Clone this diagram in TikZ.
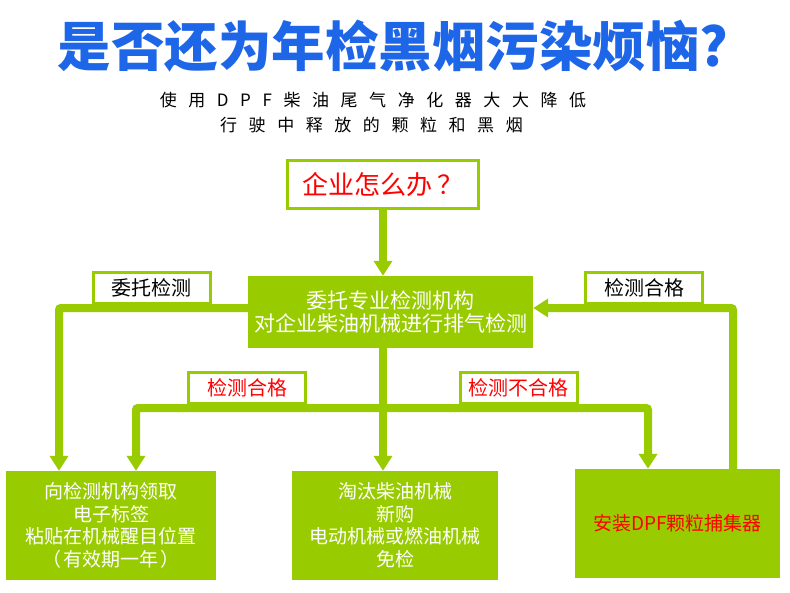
\documentclass[tikz,border=0pt]{standalone}
\usepackage{fontspec}
\setmainfont{Noto Sans CJK SC}
\newfontfamily\cjksp[LetterSpace=68]{Noto Sans CJK SC}
\usetikzlibrary{arrows.meta}
\definecolor{gr}{RGB}{153,204,0}
\definecolor{ttl}{RGB}{30,102,232}
\definecolor{rd}{RGB}{255,0,0}
\tikzset{
  conn/.style={draw=gr, line width=8pt, rounded corners=2pt},
  tipg/.tip={Triangle[width=18pt,length=15pt]},
  arr/.style={conn, -tipg},
  gbox/.style={fill=gr, text=white, align=center, inner sep=0pt},
  lbl/.style={draw=gr, line width=3pt, fill=white, minimum width=117pt, minimum height=31pt, inner sep=0pt, font=\fontsize{20}{24}\selectfont},
}
\begin{document}
\begin{tikzpicture}[x=1pt,y=-1pt]
\useasboundingbox (0,0) rectangle (790,592);
\fill[white] (0,0) rectangle (790,592);
% title
\node[font=\fontsize{53.5}{60}\selectfont\bfseries, text=ttl, inner sep=0pt] (title) at (393,46) {是否还为年检黑烟污染烦恼?};
\node[font=\cjksp\fontsize{17}{20}\selectfont, inner sep=0pt] (sub1) at (373,100) {使用DPF柴油尾气净化器大大降低};
\node[font=\cjksp\fontsize{17}{20}\selectfont, inner sep=0pt] (sub2) at (371.5,125) {行驶中释放的颗粒和黑烟};
% boxes
\node[draw=gr, line width=3pt, fill=white, minimum width=191pt, minimum height=48pt, inner sep=0pt, text=rd, font=\fontsize{26}{28}\selectfont] (q) at (383,184.5) {企业怎么办\hspace{5pt}？};
\node[gbox, minimum width=285pt, minimum height=72pt, font=\fontsize{21}{23}\selectfont] (main) at (390.5,312) {委托专业检测机构\\对企业柴油机械进行排气检测};
\node[gbox, minimum width=210pt, minimum height=109pt, font=\fontsize{19}{22.5}\selectfont] (lbox) at (111,525.5) {向检测机构领取\\电子标签\\粘贴在机械醒目位置\\（\hspace{2pt}有效期一年\hspace{2pt}）};
\node[gbox, minimum width=206pt, minimum height=109pt, font=\fontsize{19}{22.5}\selectfont] (mbox) at (395,525.5) {淘汰柴油机械\\新购\\电动机械或燃油机械\\免检};
\node[gbox, minimum width=205pt, minimum height=109pt, text=rd, font=\fontsize{19}{22.5}\selectfont] (rbox) at (677.5,523.5) {安装DPF颗粒捕集器};
% junctions
\coordinate (kL) at (59,308);
\coordinate (kR) at (733,308);
\coordinate (hL) at (136,408);
\coordinate (hR) at (648,408);
\coordinate (hM) at (383,408);
% connectors
\draw[arr] (q.south) -- (q.south |- main.north);
\draw[arr] (main.west |- kL) -- (kL) -- (kL |- lbox.north);
\draw[arr] (rbox.north -| kR) -- (kR) -- (main.east |- kR);
\draw[arr] (main.south -| hM) -- (hM |- mbox.north);
\draw[conn, tipg-tipg] (hL |- lbox.north) -- (hL) -- (hR) -- (hR |- rbox.north);
% labels
\node[lbl] (l1) at (151.5,288) {委托检测};
\node[lbl] (l2) at (644,288) {检测合格};
\node[lbl, text=rd] (l3) at (247,387.5) {检测合格};
\node[lbl, text=rd] (l4) at (518.5,387.5) {检测不合格};
\end{tikzpicture}
\end{document}
